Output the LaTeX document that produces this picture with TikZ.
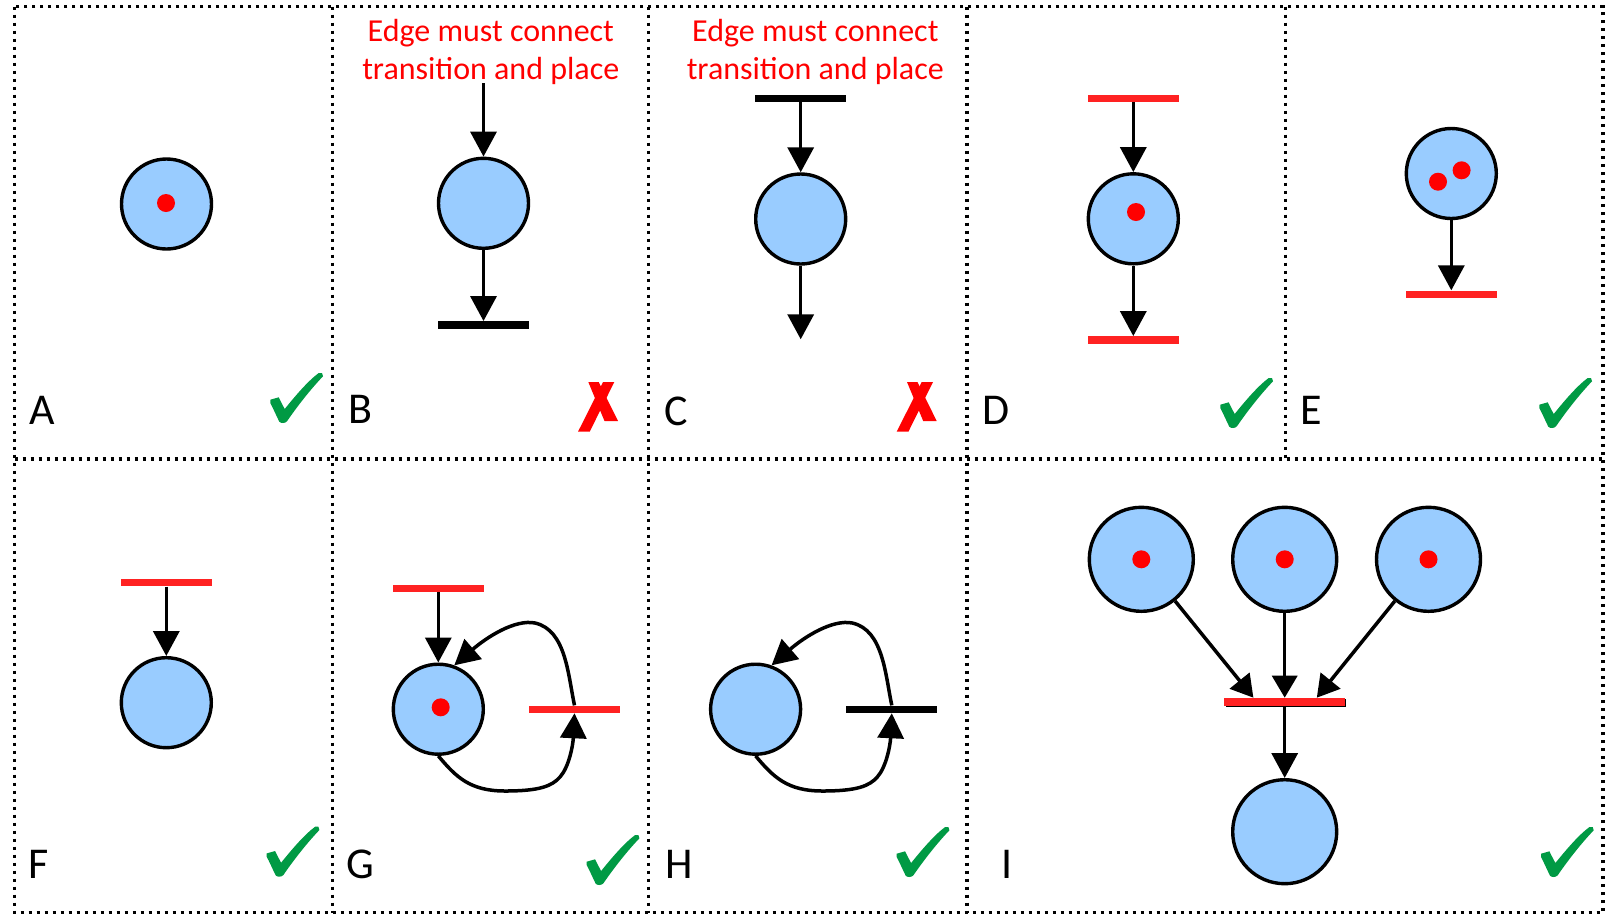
\documentclass[tikz,border=0pt]{standalone}
\usepackage{fontspec}
\setmainfont{Carlito}
\usetikzlibrary{arrows.meta,calc}
\definecolor{placefill}{HTML}{99CCFF}
\definecolor{barred}{HTML}{FF2222}
\definecolor{tokred}{HTML}{FF0000}
\definecolor{okgreen}{HTML}{009A44}
\tikzset{
  checkmark/.pic={\fill[okgreen] (-11.7,-23.3) -- (-3.3,-25.7) .. controls (-1,-21) .. (2.7,-14) .. controls (14,-28) and (26,-42) .. (36.7,-50) -- (40,-50) -- (41,-46.7) .. controls (26,-31) and (12,-12) .. (5,-1.7) .. controls (3,0.5) and (-1,0.5) .. (-2.7,-1.3) .. controls (-6,-8) and (-9,-15) .. (-11.7,-20) -- cycle;},
  crossmark/.pic={\fill[tokred] (8.3,0) -- (18.7,0) -- (38,39) -- (24.5,39) -- cycle;
                  \fill[tokred] (23,0) -- (34.3,0) -- (9.7,49.7) -- (-2,49.7) -- cycle;}
}
\begin{document}
\begin{tikzpicture}[x=1pt,y=-1pt,
  place/.style={circle,draw=black,line width=3.4pt,fill=placefill,minimum size=90pt,inner sep=0pt},
  bigplace/.style={place,minimum size=104pt},
  tok/.style={circle,fill=tokred,minimum size=18pt,inner sep=0pt},
  trans/.style={rectangle,fill=barred,minimum width=91pt,minimum height=7.5pt,inner sep=0pt},
  btrans/.style={trans,fill=black},
  arc/.style={line width=3.5pt,-{Triangle[length=25pt,width=26pt]}},
  arcs/.style={line width=3.5pt,-{Triangle[length=22pt,width=25pt]}},
  frame/.style={line width=3.5pt,dash pattern=on 3.4pt off 4.6pt},
  lbl/.style={anchor=base west,inner sep=0pt,font=\fontsize{44}{44}\selectfont},
  warn/.style={align=center,text=tokred,font=\fontsize{32}{37.5}\selectfont,inner sep=0pt,anchor=base},
]
\useasboundingbox (0,0) rectangle (1606,914);
\fill[white] (0,0) rectangle (1606,914);
% frames
\draw[frame] (14.7,6.7) rectangle (1603,912.7);
\draw[frame] (14.7,459) -- (1603,459);
\draw[frame] (332.7,6.7) -- (332.7,912.7);
\draw[frame] (648.7,6.7) -- (648.7,912.7);
\draw[frame] (967,6.7) -- (967,912.7);
\draw[frame] (1285.5,6.7) -- (1285.5,459);
% labels
\node[lbl] (lA) at (29,424) {A};
\node[lbl] (lB) at (348,423.5) {B};
\node[lbl] (lC) at (664.5,425) {C};
\node[lbl] (lD) at (982,424) {D};
\node[lbl] (lE) at (1300.5,424) {E};
\node[lbl] (lF) at (28,878) {F};
\node[lbl] (lG) at (346,878) {G};
\node[lbl] (lH) at (664.8,878) {H};
\node[lbl] (lI) at (1001.5,878) {I};
% marks
\pic at (282,423) {checkmark};
\pic at (580,382) {crossmark};
\pic at (898.7,382) {crossmark};
\pic at (1232,428) {checkmark};
\pic at (1551,428) {checkmark};
\pic at (278.4,876.7) {checkmark};
\pic at (598.4,885) {checkmark};
\pic at (908.4,877) {checkmark};
\pic at (1552.7,877) {checkmark};
% warnings
\node[warn] (wB) at (490.8,79.2) {Edge must connect\\transition and place};
\node[warn] (wC) at (815.3,79.2) {Edge must connect\\transition and place};
% A
\node[place] (pA) at (166.5,204) {};
\node[tok] (kA) at (166,203) {};
% B
\node[place] (pB) at (483.5,203.3) {};
\coordinate (sB) at (483.5,83);
\node[btrans] (tB) at (483.5,325) {};
\draw[arc] (sB) -- (pB);
\draw[arc] (pB) -- (tB);
% C
\node[btrans] (tC) at (800.7,98.3) {};
\node[place] (pC) at (800.7,219) {};
\coordinate (eC) at (800.7,339.3);
\draw[arc] (tC) -- (pC);
\draw[arc] (pC) -- (eC);
% D
\node[trans] (tD1) at (1133.3,98.3) {};
\node[place] (pD) at (1133.3,218.8) {};
\node[tok] (kD) at (1136,212) {};
\node[trans] (tD2) at (1133.3,340) {};
\draw[arc] (tD1) -- (pD);
\draw[arc] (pD) -- (tD2);
% E
\node[place] (pE) at (1451.3,173.5) {};
\node[tok] (kE1) at (1438,181.7) {};
\node[tok] (kE2) at (1461.6,170.3) {};
\node[trans] (tE) at (1451.3,294.3) {};
\draw[arc] (pE) -- (tE);
% F
\node[trans] (tF) at (166.3,582.7) {};
\node[place] (pF) at (166.3,702.7) {};
\draw[arc] (tF) -- (pF);
% G
\node[trans] (tG1) at (438.3,588.3) {};
\node[place] (pG) at (438.3,709.2) {};
\node[tok] (kG) at (440.7,707.3) {};
\node[trans] (tG2) at (574.5,709.3) {};
\draw[arc] (tG1) -- (pG);
\draw[arc] (pG.south) .. controls (456,777) and (470,791) .. (505,791) .. controls (540,791) and (552,786) .. (560,777) .. controls (569,767) and (573,745) .. (tG2.south);
\draw[arc] (tG2.north) .. controls (568,675) and (566,630) .. (535,623) .. controls (515,619) and (487,637) .. (pG.70);
% H
\begin{scope}[shift={(317.3,0)}]
\node[place] (pH) at (438.3,709.2) {};
\node[btrans] (tH) at (574.5,709.3) {};
\draw[arc] (pH.south) .. controls (456,777) and (470,791) .. (505,791) .. controls (540,791) and (552,786) .. (560,777) .. controls (569,767) and (573,745) .. (tH.south);
\draw[arc] (tH.north) .. controls (568,675) and (566,630) .. (535,623) .. controls (515,619) and (487,637) .. (pH.70);
\end{scope}
% I
\node[bigplace] (pI1) at (1141.3,559.3) {};
\node[bigplace] (pI2) at (1284.7,559.3) {};
\node[bigplace] (pI3) at (1428.5,559.3) {};
\node[tok] (kI1) at (1141.3,559.3) {};
\node[tok] (kI2) at (1284.7,559.3) {};
\node[tok] (kI3) at (1428.5,559.3) {};
\fill[black] (1225.5,699.2) rectangle (1346,707.2);
\node[trans,minimum width=121pt,minimum height=8pt] (tI) at (1284.7,701.7) {};
\node[bigplace] (pI4) at (1284.7,831.7) {};
\coordinate (iL) at (1253.4,697.7);
\coordinate (iM) at (1284.7,697.7);
\coordinate (iR) at (1316.8,697.7);
\draw[arcs] (pI1) -- (iL);
\draw[arcs] (pI2) -- (iM);
\draw[arcs] (pI3) -- (iR);
\draw[arc] (tI) -- (pI4);
\end{tikzpicture}
\end{document}
